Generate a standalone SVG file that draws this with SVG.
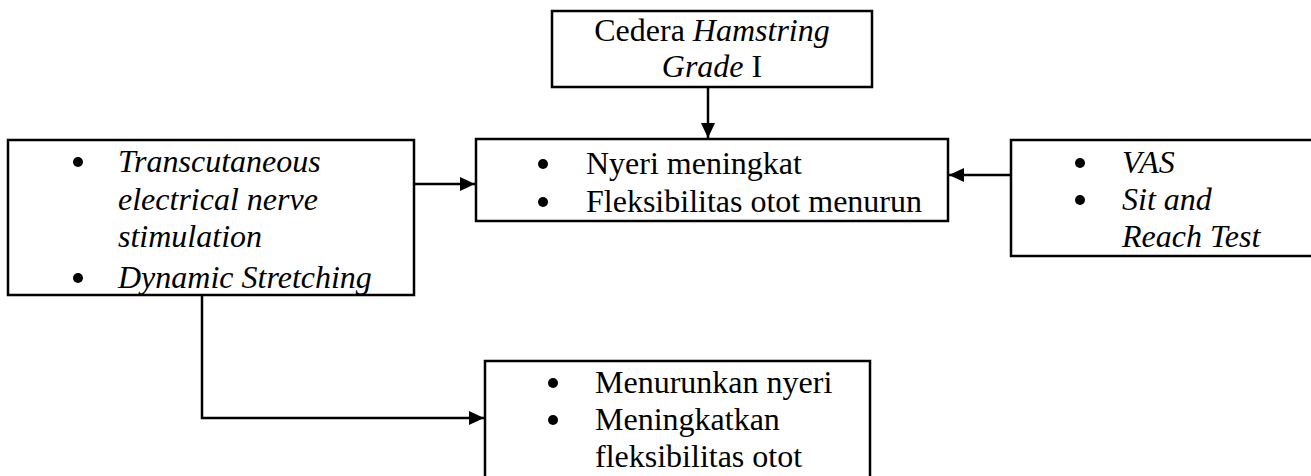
<svg xmlns="http://www.w3.org/2000/svg" width="1311" height="476" viewBox="0 0 1311 476">
<defs>
<marker id="arr" markerWidth="15" markerHeight="14" refX="15" refY="7" orient="auto" markerUnits="userSpaceOnUse">
<path d="M0,0 L15,7 L0,14 Z" fill="#000"/>
</marker>
<style>
.box{fill:#fff;stroke:#000;stroke-width:2.5}
.t{font-family:"Liberation Serif","Times New Roman",serif;font-size:32px;fill:#000}
.i{font-style:italic}
.ln{fill:none;stroke:#000;stroke-width:2.5}
.b{fill:#000}
</style>
</defs>
<rect width="1311" height="476" fill="#fff"/>
<g id="connectors">
<line class="ln" x1="708" y1="87" x2="708" y2="138" marker-end="url(#arr)"/>
<line class="ln" x1="414" y1="184" x2="475" y2="184" marker-end="url(#arr)"/>
<line class="ln" x1="1011" y1="175" x2="949" y2="175" marker-end="url(#arr)"/>
<polyline class="ln" points="202,295 202,418 484,418" marker-end="url(#arr)"/>
</g>
<g id="top">
<rect class="box" x="552" y="11" width="320" height="76"/>
<text class="t" x="712" y="41" text-anchor="middle">Cedera <tspan class="i">Hamstring</tspan></text>
<text class="t" x="712" y="77" text-anchor="middle"><tspan class="i">Grade</tspan> I</text>
</g>
<g id="middle">
<rect class="box" x="476" y="139" width="472" height="82"/>
<circle class="b" cx="543" cy="164" r="5"/>
<circle class="b" cx="543" cy="202" r="5"/>
<text class="t" x="586" y="174">Nyeri meningkat</text>
<text class="t" x="586" y="212">Fleksibilitas otot menurun</text>
</g>
<g id="left">
<rect class="box" x="8" y="140" width="406" height="155"/>
<circle class="b" cx="78" cy="162" r="5"/>
<circle class="b" cx="78" cy="278" r="5"/>
<text class="t i" x="118" y="172">Transcutaneous</text>
<text class="t i" x="118" y="210">electrical nerve</text>
<text class="t i" x="118" y="247">stimulation</text>
<text class="t i" x="118" y="288">Dynamic Stretching</text>
</g>
<g id="right">
<rect class="box" x="1011" y="140" width="310" height="116"/>
<circle class="b" cx="1080" cy="163" r="5"/>
<circle class="b" cx="1080" cy="200" r="5"/>
<text class="t i" x="1122" y="173">VAS</text>
<text class="t i" x="1122" y="210">Sit and</text>
<text class="t i" x="1122" y="247">Reach Test</text>
</g>
<g id="bottom">
<rect class="box" x="485" y="361" width="385" height="125"/>
<circle class="b" cx="553" cy="383" r="5"/>
<circle class="b" cx="553" cy="420" r="5"/>
<text class="t" x="595" y="393">Menurunkan nyeri</text>
<text class="t" x="595" y="430">Meningkatkan</text>
<text class="t" x="595" y="467">fleksibilitas otot</text>
</g>
</svg>
